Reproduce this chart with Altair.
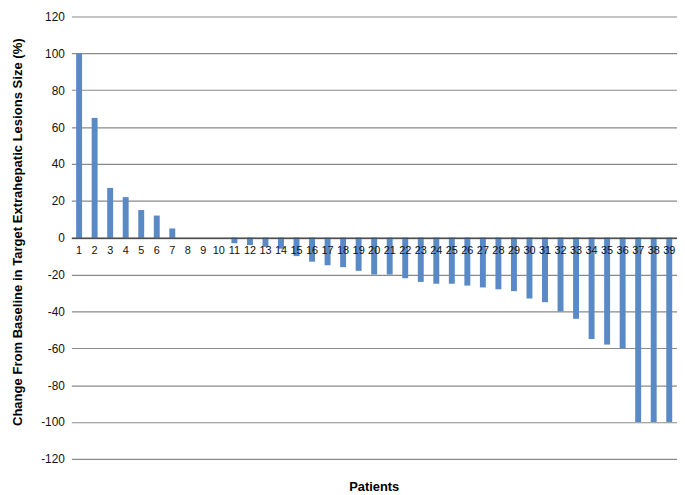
import altair as alt
import pandas as pd

patients = [str(i) for i in range(1, 40)]
change = [100, 65, 27, 22, 15, 12, 5, 0, 0, 0,
          -3, -4, -5, -6, -10, -13, -15, -16, -18, -20,
          -20, -22, -24, -25, -25, -26, -27, -28, -29, -33,
          -35, -40, -44, -55, -58, -60, -100, -100, -100]
y_ticks = list(range(-120, 121, 20))

df = pd.DataFrame({"patient": patients, "change": change})

H = 447
chart = alt.Chart(df).mark_bar(color="#5A8AC6", size=6).encode(
    x=alt.X("patient:N", sort=patients, title=None,
            scale=alt.Scale(paddingInner=0, paddingOuter=0),
            axis=alt.Axis(offset=-H / 2, labelAngle=0, ticks=False, domain=True,
                          domainColor="#3a3a3a", domainWidth=1.2, labelPadding=7,
                          labelFont="Liberation Sans", labelFontSize=11,
                          labelColor="#111111", grid=False, zindex=1)),
    y=alt.Y("change:Q",
            scale=alt.Scale(domain=[-120, 120], nice=False, zero=False),
            title="Change From Baseline in Target Extrahepatic Lesions Size (%)",
            axis=alt.Axis(values=y_ticks, domain=False, ticks=False,
                          gridColor="#8a8a8a", gridWidth=1.2, gridOpacity=1,
                          labelExpr="toString(datum.value)",
                          labelFont="Liberation Sans", labelFontSize=12,
                          labelColor="#111111", labelPadding=7,
                          titleFont="Liberation Sans", titleFontSize=13.2,
                          titleFontWeight="bold", titleColor="#000000",
                          titleX=-47, titleY=H / 2 - 6, titleBaseline="bottom")),
).properties(
    width=612, height=H,
    autosize=alt.AutoSizeParams(type="none"),
    padding={"left": 64, "top": 6, "right": 0, "bottom": 40},
    title=alt.TitleParams("Patients", orient="bottom", font="Liberation Sans",
                          fontSize=13, fontWeight="bold", color="#000000",
                          offset=16),
).configure_view(stroke=None)

chart.save("out.html", embed_options={"renderer": "svg", "actions": False})
